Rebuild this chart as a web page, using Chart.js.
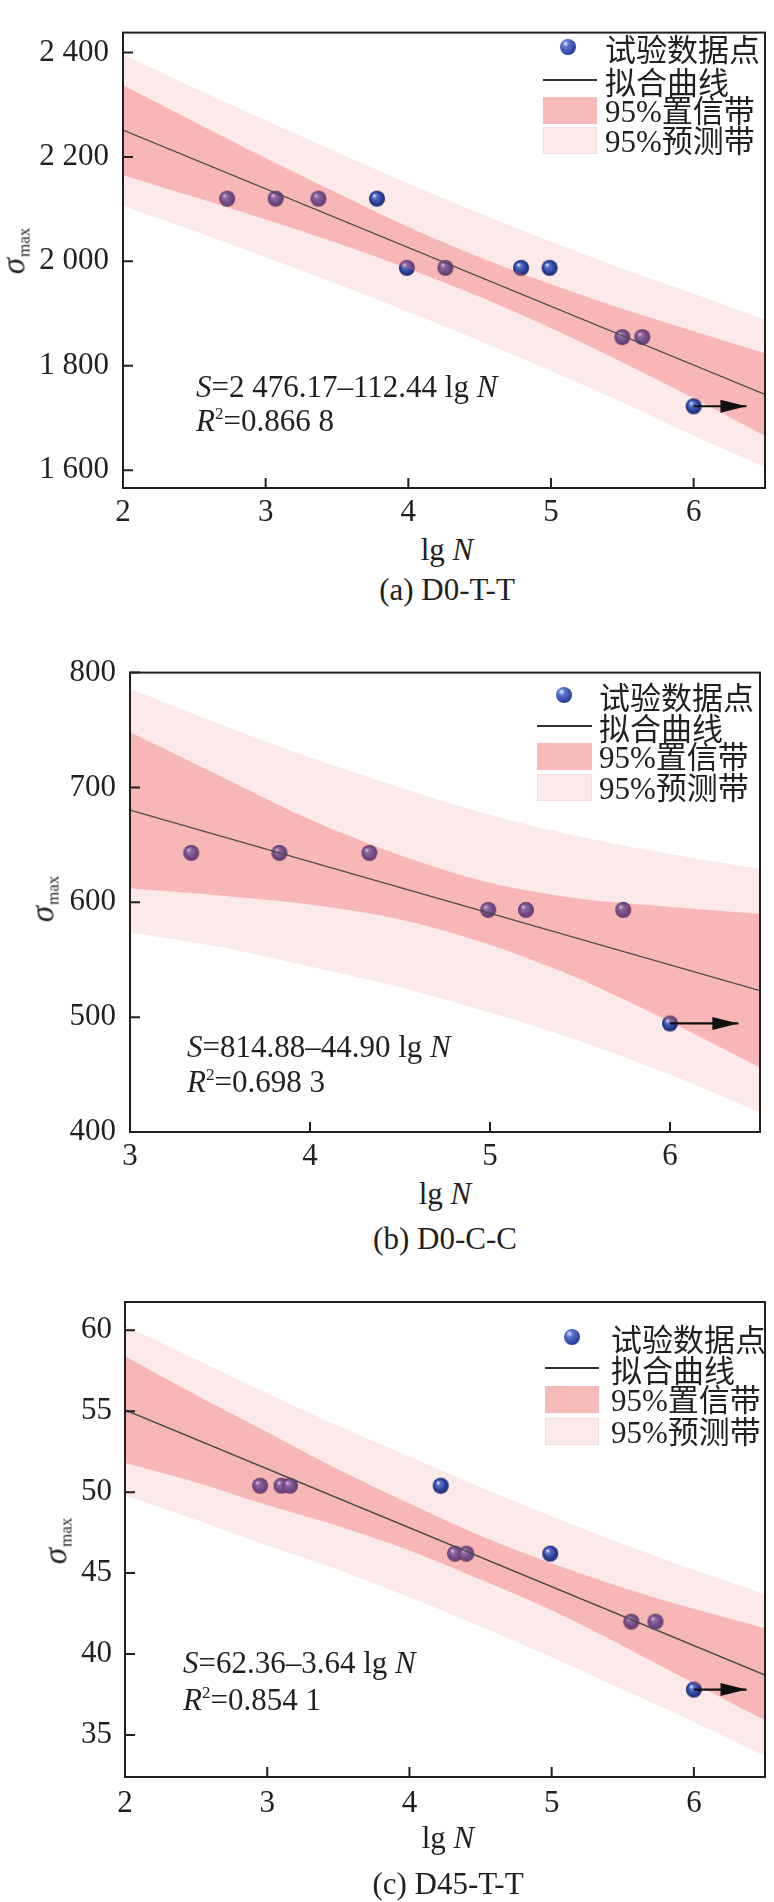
<!DOCTYPE html>
<html>
<head>
<meta charset="utf-8">
<script src="https://cdn.jsdelivr.net/npm/chart.js@4.4.1/dist/chart.umd.min.js"></script>
<style>
  body { margin: 0; background: #fff; }
  #page { position: relative; width: 774px; height: 1902px; overflow: hidden; font-family: 'Liberation Serif', serif; color: #231f20; }
  canvas { position: absolute; left: 0; }
  .t { position: absolute; font-size: 31px; line-height: 1; white-space: nowrap; }
  .mid { transform: translate(-50%, -50%); }
  .lft { transform: translateY(-50%); }
  .cjk { font-family: 'Noto Sans CJK SC', sans-serif; }
  .sym { position: absolute; }
  .sig { position: absolute; transform: translate(-50%, -50%) rotate(-90deg); white-space: nowrap; line-height: 1; }
  .sig i { font-size: 33px; }
  .sig span { font-size: 17px; position: relative; top: 5px; margin-left: 1px; }
  sup { font-size: 17px; vertical-align: 0; position: relative; top: -12px; }
</style>
</head>
<body>
<div id="page">
  <canvas id="cA" width="774" height="530" style="top:0"></canvas>
  <canvas id="cB" width="774" height="530" style="top:640px"></canvas>
  <canvas id="cC" width="774" height="560" style="top:1270px"></canvas>
</div>
<script>
// ---- (a) D0-T-T ----
const xTicksA = [2, 3, 4, 5, 6];
const yTicksA = [1600, 1800, 2000, 2200, 2400];
const yLabelsA = ['1 600', '1 800', '2 000', '2 200', '2 400'];
const bandXA = [2, 2.5, 3, 3.5, 4, 4.5, 5, 5.5, 6, 6.5];
const confUpA = [2337, 2267, 2198, 2131, 2066, 2008, 1956, 1909, 1866, 1824];
const confLoA = [2165, 2123, 2080, 2035, 1986, 1932, 1872, 1807, 1738, 1666];
const predUpA = [2396, 2332, 2270, 2209, 2149, 2092, 2038, 1986, 1938, 1888];
const predLoA = [2106, 2058, 2008, 1957, 1903, 1848, 1790, 1730, 1666, 1606];
const fitXA = [2, 6.5];
const fitYA = [2251.3, 1745.3];
const testXA = [2.73, 3.07, 3.37, 3.78, 3.99, 4.26, 4.79, 4.99, 5.50, 5.64, 6.00];
const testYA = [2120, 2120, 2120, 2120, 1987.5, 1987.5, 1987.5, 1987.5, 1855, 1855, 1722.5];
const runXA = [6.00, 6.37];
const runYA = [1722.5, 1722.5];

// ---- (b) D0-C-C ----
const xTicksB = [3, 4, 5, 6];
const yTicksB = [400, 500, 600, 700, 800];
const yLabelsB = ['400', '500', '600', '700', '800'];
const bandXB = [3, 3.5, 4, 4.5, 5, 5.5, 6, 6.5];
const confUpB = [748, 710, 672, 641, 617, 603, 596, 590];
const confLoB = [612, 606, 598, 585, 563, 533, 496, 456];
const predUpB = [786, 755, 726, 700, 676, 657, 642, 629];
const predLoB = [574, 561, 544, 526, 504, 479, 450, 417];
const fitXB = [3, 6.5];
const fitYB = [680.2, 523.0];
const testXB = [3.34, 3.83, 4.33, 4.99, 5.20, 5.74, 6.00];
const testYB = [643, 643, 643, 593.4, 593.4, 593.4, 494.5];
const runXB = [6.00, 6.38];
const runYB = [494.5, 494.5];

// ---- (c) D45-T-T ----
const xTicksC = [2, 3, 4, 5, 6];
const yTicksC = [35, 40, 45, 50, 55, 60];
const yLabelsC = ['35', '40', '45', '50', '55', '60'];
const bandXC = [2, 2.5, 3, 3.5, 4, 4.5, 5, 5.5, 6, 6.5];
const confUpC = [58.4, 56.0, 53.7, 51.4, 49.3, 47.3, 45.6, 44.1, 42.8, 41.6];
const confLoC = [51.8, 50.6, 49.2, 47.9, 46.4, 44.6, 42.7, 40.5, 38.2, 35.9];
const predUpC = [60.3, 58.2, 56.1, 54.1, 52.2, 50.3, 48.5, 46.8, 45.2, 43.7];
const predLoC = [49.8, 48.3, 46.7, 45.2, 43.5, 41.7, 39.8, 37.8, 35.8, 33.7];
const fitXC = [2, 6.5];
const fitYC = [55.08, 38.70];
const testXC = [2.95, 3.10, 3.16, 4.22, 4.32, 4.40, 4.99, 5.56, 5.73, 6.00];
const testYC = [50.4, 50.4, 50.4, 50.4, 46.2, 46.2, 46.2, 42, 42, 37.8];
const runXC = [6.00, 6.37];
const runYC = [37.8, 37.8];

const legendNames = ['试验数据点', '拟合曲线', '95%置信带', '95%预测带'];

const INK = '#231f20';
const PRED_FILL = 'rgb(252,233,233)';
const CONF_FILL = 'rgba(241,93,93,0.35)';

function pts(xs, ys) {
  return xs.map((x, i) => ({ x: x, y: ys[i] }));
}

function ball(r) {
  const c = document.createElement('canvas');
  c.width = c.height = 2 * r + 2;
  const g = c.getContext('2d');
  const m = r + 1;
  const grd = g.createRadialGradient(m - r * 0.35, m - r * 0.4, 0.5, m, m, r);
  grd.addColorStop(0, '#e4eaff');
  grd.addColorStop(0.22, '#5b74cc');
  grd.addColorStop(0.65, '#2d45a0');
  grd.addColorStop(1, '#1b296c');
  g.fillStyle = grd;
  g.beginPath();
  g.arc(m, m, r, 0, Math.PI * 2);
  g.fill();
  return c;
}
const BALL = ball(8);

// frame + inward ticks
const framePlugin = {
  id: 'frame',
  afterDraw(chart) {
    const { ctx, chartArea: a } = chart;
    const x = chart.scales.x, y = chart.scales.y;
    ctx.save();
    ctx.strokeStyle = INK;
    ctx.lineWidth = 2;
    ctx.beginPath();
    x.ticks.forEach(t => {
      const px = x.getPixelForValue(t.value);
      ctx.moveTo(px, a.bottom);
      ctx.lineTo(px, a.bottom - 10);
    });
    y.ticks.forEach(t => {
      const py = y.getPixelForValue(t.value);
      ctx.moveTo(a.left, py);
      ctx.lineTo(a.left + 10, py);
    });
    ctx.stroke();
    ctx.strokeRect(a.left, a.top, a.right - a.left, a.bottom - a.top);
    ctx.restore();
  }
};

// arrow head on the run-out dataset
const arrowPlugin = {
  id: 'arrowHead',
  afterDatasetsDraw(chart) {
    const meta = chart.getDatasetMeta(0);
    const last = meta.data[meta.data.length - 1];
    const ctx = chart.ctx;
    ctx.save();
    ctx.fillStyle = '#111';
    ctx.beginPath();
    ctx.moveTo(last.x, last.y);
    ctx.lineTo(last.x - 26, last.y - 6.5);
    ctx.lineTo(last.x - 26, last.y + 6.5);
    ctx.closePath();
    ctx.fill();
    ctx.restore();
  }
};

function makeChart(id, s) {
  const bandLine = { showLine: true, pointRadius: 0, borderWidth: 0, borderColor: 'rgba(0,0,0,0)', tension: 0.3 };
  new Chart(document.getElementById(id), {
    type: 'line',
    data: {
      datasets: [
        { data: pts(s.runX, s.runY), borderColor: '#111', borderWidth: 2.2, pointRadius: 0, fill: false },
        { data: pts(s.fitX, s.fitY), borderColor: '#4a4a4a', borderWidth: 1.3, pointRadius: 0, fill: false },
        Object.assign({ data: pts(s.bandX, s.confUp), fill: '+1', backgroundColor: CONF_FILL }, bandLine),
        Object.assign({ data: pts(s.bandX, s.confLo), fill: false }, bandLine),
        { data: pts(s.testX, s.testY), showLine: false, pointStyle: BALL, pointRadius: 8, fill: false },
        Object.assign({ data: pts(s.bandX, s.predUp), fill: '+1', backgroundColor: PRED_FILL }, bandLine),
        Object.assign({ data: pts(s.bandX, s.predLo), fill: false }, bandLine)
      ]
    },
    options: {
      responsive: false,
      animation: false,
      devicePixelRatio: 1,
      layout: { padding: { top: s.padTop, right: s.padRight, left: 0, bottom: 0 } },
      plugins: { legend: { display: false }, tooltip: { enabled: false } },
      scales: {
        x: {
          type: 'linear', min: s.xMin, max: s.xMax,
          grid: { display: false, drawTicks: false },
          border: { display: false },
          afterBuildTicks: sc => { sc.ticks = s.xTicks.map(v => ({ value: v })); },
          afterFit: sc => { sc.height = s.xAxisH; },
          ticks: { padding: s.xPad, color: INK, font: { family: 'Liberation Serif', size: 31 }, maxRotation: 0, callback: v => String(v) }
        },
        y: {
          type: 'linear', min: s.yMin, max: s.yMax,
          grid: { display: false, drawTicks: false },
          border: { display: false },
          afterBuildTicks: sc => { sc.ticks = s.yTicks.map(v => ({ value: v })); },
          afterFit: sc => { sc.width = s.yAxisW; },
          ticks: { padding: s.yPad, color: INK, font: { family: 'Liberation Serif', size: 31 },
                   callback: (v, i) => s.yLabels[i] }
        }
      }
    },
    plugins: [framePlugin, arrowPlugin]
  });
}

makeChart('cA', {
  xMin: 2, xMax: 6.5, yMin: 1566, yMax: 2438, xTicks: xTicksA, yTicks: yTicksA, yLabels: yLabelsA,
  bandX: bandXA, confUp: confUpA, confLo: confLoA, predUp: predUpA, predLo: predLoA,
  fitX: fitXA, fitY: fitYA, testX: testXA, testY: testYA, runX: runXA, runY: runYA,
  padTop: 12, padRight: 3, yAxisW: 123, xAxisH: 42, xPad: 6, yPad: 14
});
makeChart('cB', {
  xMin: 3, xMax: 6.5, yMin: 400, yMax: 800, xTicks: xTicksB, yTicks: yTicksB, yLabels: yLabelsB,
  bandX: bandXB, confUp: confUpB, confLo: confLoB, predUp: predUpB, predLo: predLoB,
  fitX: fitXB, fitY: fitYB, testX: testXB, testY: testYB, runX: runXB, runY: runYB,
  padTop: 29, padRight: 14, yAxisW: 130, xAxisH: 38, xPad: 6, yPad: 14
});
makeChart('cC', {
  xMin: 2, xMax: 6.5, yMin: 32.4, yMax: 61.75, xTicks: xTicksC, yTicks: yTicksC, yLabels: yLabelsC,
  bandX: bandXC, confUp: confUpC, confLo: confLoC, predUp: predUpC, predLo: predLoC,
  fitX: fitXC, fitY: fitYC, testX: testXC, testY: testYC, runX: runXC, runY: runYC,
  padTop: 32, padRight: 3, yAxisW: 125, xAxisH: 53, xPad: 8, yPad: 13
});

// ---- text overlays ----
const page = document.getElementById('page');
function add(html, cls, left, top) {
  const d = document.createElement('div');
  d.className = cls;
  d.style.left = left + 'px';
  d.style.top = top + 'px';
  d.innerHTML = html;
  page.appendChild(d);
  return d;
}
function box(left, top, w, h, css) {
  const d = document.createElement('div');
  d.className = 'sym';
  d.style.cssText += `left:${left}px;top:${top}px;width:${w}px;height:${h}px;${css}`;
  page.appendChild(d);
}
function legend(rows, symL, symR, ballX, textL) {
  const w = symR - symL;
  box(ballX - 8, rows[0] - 8, 16, 16,
    'border-radius:50%;background:radial-gradient(circle at 35% 30%,#e4eaff 0,#5b74cc 22%,#2d45a0 65%,#1b296c 100%)');
  box(symL, rows[1] - 0.7, w, 1.4, 'background:#333');
  box(symL, rows[2] - 13.5, w, 27, 'background:rgb(248,185,185)');
  box(symL, rows[3] - 13.5, w, 27, 'background:rgb(252,233,233);box-shadow:inset 0 0 0 1px #f5dcdc');
  legendNames.forEach((n, i) => {
    const html = n.replace('95%', '<span style="font-family:Liberation Serif">95%</span>');
    add(html, 't lft cjk', textL, rows[i]);
  });
}

// (a)
legend([47, 80, 110, 140], 543, 597, 568, 605);
add('<i>S</i>=2 476.17–112.44 lg <i>N</i>', 't lft', 196, 386);
add('<i>R</i><sup>2</sup>=0.866 8', 't lft', 196, 420);
add('<i>σ</i><span>max</span>', 'sig', 14, 251);
add('lg <i>N</i>', 't mid', 447, 549);
add('(a) D0-T-T', 't mid', 447, 589);

// (b)
legend([695, 726, 756, 787], 537, 592, 564, 599);
add('<i>S</i>=814.88–44.90 lg <i>N</i>', 't lft', 187, 1046);
add('<i>R</i><sup>2</sup>=0.698 3', 't lft', 187, 1081);
add('<i>σ</i><span>max</span>', 'sig', 43, 899);
add('lg <i>N</i>', 't mid', 445, 1193);
add('(b) D0-C-C', 't mid', 445, 1238);

// (c)
legend([1337, 1368, 1399, 1431], 545, 599, 572, 611);
add('<i>S</i>=62.36–3.64 lg <i>N</i>', 't lft', 183, 1662);
add('<i>R</i><sup>2</sup>=0.854 1', 't lft', 183, 1699);
add('<i>σ</i><span>max</span>', 'sig', 56, 1541);
add('lg <i>N</i>', 't mid', 448, 1837);
add('(c) D45-T-T', 't mid', 448, 1883);
</script>
</body>
</html>
